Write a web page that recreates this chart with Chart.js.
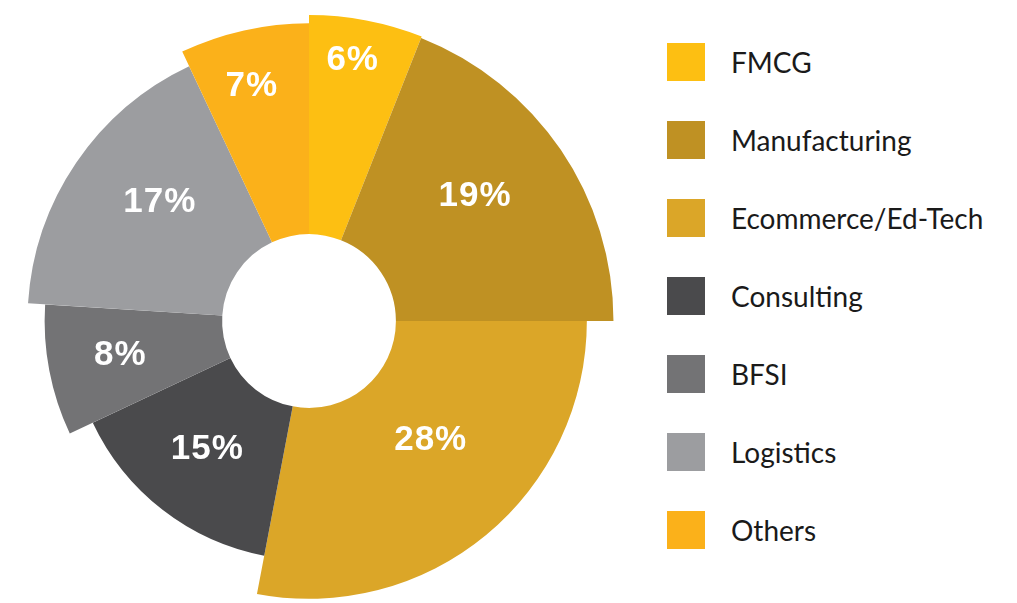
<!DOCTYPE html>
<html lang="en">
<head>
    <meta charset="UTF-8">
    <meta name="viewport" content="width=device-width, initial-scale=1.0">
    <title>Sector Split</title>
    <script src="https://cdn.jsdelivr.net/npm/chart.js"></script>
    <style>
        html, body {
            margin: 0;
            padding: 0;
            width: 1017px;
            height: 603px;
            overflow: hidden;
            background-color: #fff;
        }

        .chart-box {
            position: absolute;
            left: 0;
            top: 0;
            width: 618px;
            height: 642px;
        }

        .legend {
            position: absolute;
            left: 667px;
            top: 43px;
            margin: 0;
            padding: 0;
            list-style: none;
            font-family: 'Lato', sans-serif;
            font-size: 28px;
            color: #1a1a1a;
        }

        .legend li {
            display: flex;
            align-items: center;
            height: 38px;
            margin-bottom: 40px;
        }

        .legend .swatch {
            flex: none;
            width: 38px;
            height: 38px;
            margin-right: 26px;
        }
    </style>
</head>
<body>
    <div class="chart-box">
        <canvas id="sectorChart"></canvas>
    </div>
    <ul class="legend" id="legend"></ul>

    <script>
        const sectors = ['FMCG', 'Manufacturing', 'Ecommerce/Ed-Tech', 'Consulting', 'BFSI', 'Logistics', 'Others'];
        const shares = [6, 19, 28, 15, 8, 17, 7];
        const sectorColors = ['#fdbf12', '#bf9123', '#dba628', '#4a4a4c', '#737375', '#9c9da0', '#fbb11a'];

        // styling only: how far each slice reaches, as a share of the full radius
        const sliceReach = [1.0, 0.995, 0.908, 0.781, 0.864, 0.92, 0.973];
        // where each % label sits: share of its slice's radius, and a small turn (degrees) off the mid angle
        const labelReach = [0.865, 0.683, 0.613, 0.685, 0.725, 0.676, 0.8125];
        const labelTurn = [-1.3, -2.8, -6.0, 0.6, 0.5, 4.2, -1.1];

        const reachPlugin = {
            id: 'sliceReach',
            afterDatasetsUpdate(chart) {
                const meta = chart.getDatasetMeta(0);
                const full = meta.controller.outerRadius;
                meta.data.forEach((arc, i) => {
                    arc.outerRadius = full * sliceReach[i];
                });
            }
        };

        const pctPlugin = {
            id: 'pctLabels',
            afterDatasetsDraw(chart) {
                const ctx = chart.ctx;
                ctx.save();
                ctx.font = 'bold 35px "Liberation Sans", Arial, sans-serif';
                ctx.letterSpacing = '1px';
                ctx.fillStyle = '#ffffff';
                ctx.textAlign = 'center';
                ctx.textBaseline = 'middle';
                chart.getDatasetMeta(0).data.forEach((arc, i) => {
                    const mid = (arc.startAngle + arc.endAngle) / 2 + labelTurn[i] * Math.PI / 180;
                    const r = arc.outerRadius * labelReach[i];
                    ctx.fillText(shares[i] + '%', arc.x + Math.cos(mid) * r, arc.y + Math.sin(mid) * r);
                });
                ctx.restore();
            }
        };

        new Chart(document.getElementById('sectorChart'), {
            type: 'doughnut',
            data: {
                labels: sectors,
                datasets: [{
                    data: shares,
                    backgroundColor: sectorColors,
                    borderWidth: 0
                }]
            },
            options: {
                responsive: true,
                maintainAspectRatio: false,
                animation: false,
                events: [],
                radius: 306,
                cutout: '28.4%',
                layout: { padding: 0 },
                plugins: {
                    legend: { display: false },
                    tooltip: { enabled: false }
                }
            },
            plugins: [reachPlugin, pctPlugin]
        });

        const legend = document.getElementById('legend');
        sectors.forEach((name, i) => {
            const li = document.createElement('li');
            li.innerHTML = `<span class="swatch" style="background:${sectorColors[i]}"></span><span>${name}</span>`;
            legend.appendChild(li);
        });
    </script>
</body>
</html>
